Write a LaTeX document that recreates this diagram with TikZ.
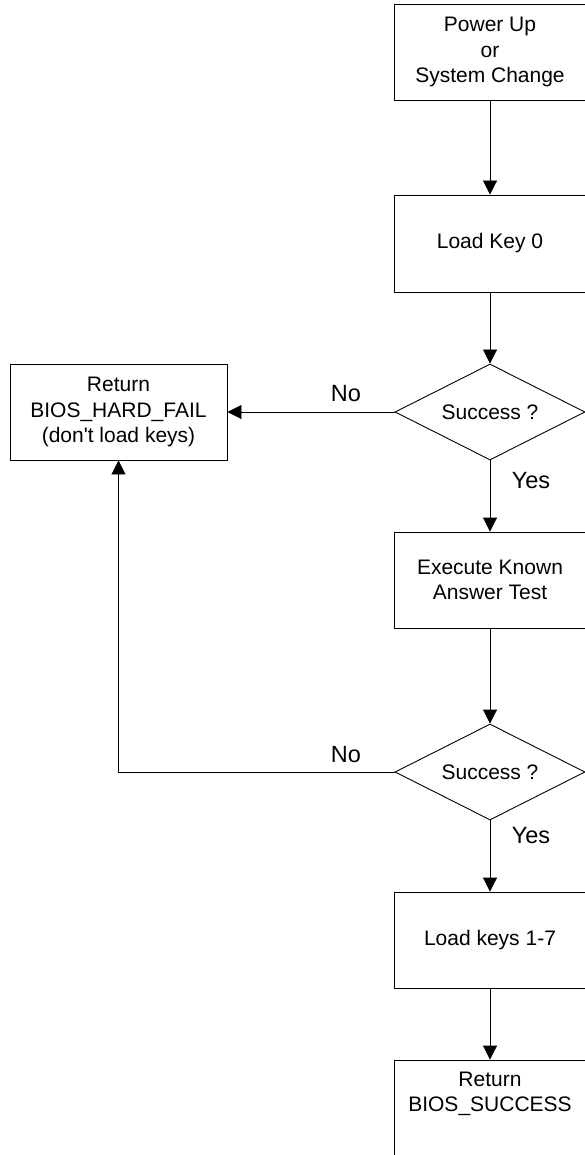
\documentclass[tikz,border=0pt]{standalone}
\usepackage{fontspec}
\setmainfont{Liberation Sans}
\usetikzlibrary{arrows.meta,shapes.geometric}
\begin{document}
\begin{tikzpicture}[x=1pt,y=-1pt,
  line width=0.9pt,
  procbox/.style={draw, rectangle, minimum width=192pt, minimum height=96pt,
    inner sep=0pt, align=center, font=\fontsize{21}{25.5}\selectfont},
  decision/.style={draw, diamond, aspect=1.98, minimum width=190pt, minimum height=96pt,
    inner sep=0pt, align=center, font=\fontsize{21}{25.5}\selectfont},
  edgelbl/.style={inner sep=0pt, font=\fontsize{23.5}{28}\selectfont},
  flow/.style={-{Triangle[length=14pt,width=14pt]}}]
  \useasboundingbox (0,0) rectangle (584,1155);

  \node[procbox] (power) at (490,52) {Power Up\\or\\System Change};
  \node[procbox, minimum height=97pt] (key0) at (490,243.5) {Load Key 0};
  \node[decision] (ok1) at (490,412) {Success ?};
  \node[procbox, minimum width=217pt] (fail) at (118.5,412)
    {Return\\BIOS\_HARD\_FAIL\\(don\textquotesingle t load keys)};
  \node[procbox] (kat) at (490,580) {Execute Known\\Answer Test};
  \node[decision] (ok2) at (490,772) {Success ?};
  \node[procbox] (keys) at (490,940) {Load keys 1-7};
  \node[procbox] (done) at (490,1108) {};
  \node[inner sep=0pt, align=center, font=\fontsize{21}{25.5}\selectfont]
    (donetxt) at (490,1094) {Return\\BIOS\_SUCCESS};

  \draw[flow] (power) -- (key0);
  \draw[flow] (key0) -- (ok1);
  \draw[flow] (ok1) -- (fail);
  \draw[flow] (ok1) -- (kat);
  \draw[flow] (kat) -- (ok2);
  \draw[flow] (ok2.west) -- (118.5,772) -- (fail.south);
  \draw[flow] (ok2) -- (keys);
  \draw[flow] (keys) -- (done);

  \node[edgelbl] (no1) at (346,394) {No};
  \node[edgelbl] (yes1) at (531,481) {Yes};
  \node[edgelbl] (no2) at (346,755) {No};
  \node[edgelbl] (yes2) at (531,836) {Yes};
\end{tikzpicture}
\end{document}
